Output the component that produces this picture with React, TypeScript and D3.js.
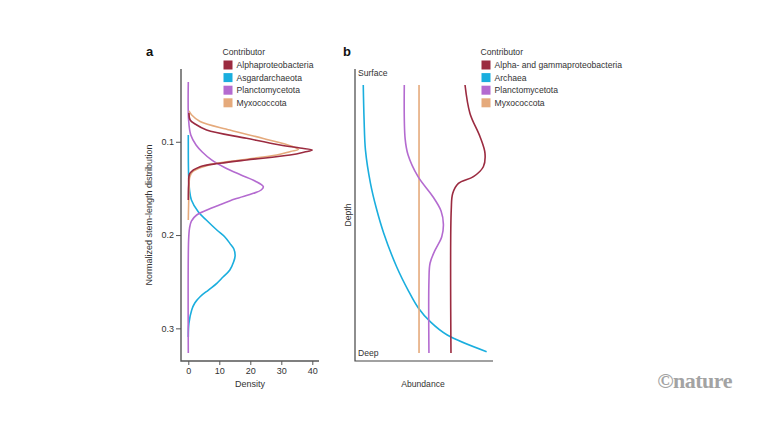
import React, { useEffect, useRef } from "react";
import * as d3 from "d3";

// panel a: [normalized stem length, density]
const alphaproteobacteria = [
  [0.0692, 0.2], [0.0767, 0.6], [0.081, 2.2], [0.0874, 5.9], [0.0963, 18.8], [0.1035, 29.6],
  [0.1067, 36], [0.1088, 40], [0.111, 37.5], [0.1142, 32.8], [0.1195, 18.8], [0.1231, 10.2],
  [0.1267, 3.8], [0.1338, 0.5], [0.1463, 0.1], [0.1624, 0],
];
const asgardarchaeota = [
  [0.0927, 0], [0.1356, 0.1], [0.1517, 0.4], [0.1624, 1], [0.175, 3.2], [0.1839, 5.8],
  [0.1946, 9.2], [0.2021, 11.8], [0.2089, 13.4], [0.215, 14.7], [0.2223, 15.1], [0.2289, 14.6],
  [0.2375, 13.4], [0.245, 11.2], [0.2517, 9.2], [0.2589, 6.5], [0.2661, 3.8], [0.2728, 2.1],
  [0.2803, 1.1], [0.2946, 0.2], [0.3092, 0],
];
const planctomycetota = [
  [0.0359, 0], [0.0767, 0.1], [0.0928, 0.8], [0.1035, 2.5], [0.111, 4.5], [0.1195, 7.5],
  [0.1281, 12], [0.1356, 17], [0.142, 21.5], [0.1481, 24.2], [0.1517, 23.5], [0.1553, 21],
  [0.1614, 15], [0.1678, 10], [0.1732, 6], [0.1785, 2.7], [0.185, 1], [0.1925, 0.4],
  [0.2053, 0.1], [0.3264, 0],
];
const myxococcota = [
  [0.067, 0.2], [0.0713, 1.1], [0.0783, 3.8], [0.0874, 13.4], [0.0965, 24.2], [0.1049, 33.5],
  [0.1083, 35.5], [0.1104, 33], [0.1142, 28.5], [0.1192, 17.5], [0.1245, 7], [0.1316, 1.6],
  [0.1374, 0.5], [0.1517, 0.25], [0.1678, 0.1], [0.1838, 0],
];
const densityTicks = [0, 10, 20, 30, 40];
const lengthTicks = [0.1, 0.2, 0.3];

// panel b: [depth (0 surface, 1 deep), relative abundance]
const alphaGamma = [
  [0, 0.799], [0.106, 0.835], [0.193, 0.908], [0.255, 0.944], [0.305, 0.932], [0.342, 0.86],
  [0.367, 0.751], [0.404, 0.71], [0.466, 0.699], [1, 0.697],
];
const archaea = [
  [0, 0.06], [0.13, 0.066], [0.243, 0.076], [0.366, 0.112], [0.46, 0.155], [0.552, 0.208],
  [0.679, 0.303], [0.77, 0.39], [0.832, 0.46], [0.885, 0.55], [0.933, 0.67], [0.995, 0.956],
];
const planctoB = [
  [0, 0.358], [0.2, 0.364], [0.26, 0.385], [0.342, 0.458], [0.417, 0.566], [0.47, 0.625],
  [0.52, 0.642], [0.566, 0.63], [0.62, 0.578], [0.665, 0.545], [0.73, 0.537], [1, 0.537],
];
const myxoB = [[0, 0.465], [1, 0.465]];

const legendA = ["Alphaproteobacteria", "Asgardarchaeota", "Planctomycetota", "Myxococcota"];
const legendB = ["Alpha- and gammaproteobacteria", "Archaea", "Planctomycetota", "Myxococcota"];
const colors = ["#9b2b40", "#1aaede", "#b46bd0", "#e5aa7c"];

const FONT = "'Liberation Sans', Arial, sans-serif";
const INK = "#333";

const App = () => {
  const ref = useRef<SVGSVGElement>(null);

  useEffect(() => {
    const svg = d3.select(ref.current);
    svg.selectAll("*").remove();
    svg.attr("width", 768).attr("height", 433);
    svg.append("rect").attr("width", 768).attr("height", 433).attr("fill", "#fff");

    // ---------- panel a ----------
    const x = d3.scaleLinear().domain([0, 40]).range([188.3, 312.3]);
    const y = d3.scaleLinear().domain([0.022, 0.335]).range([69, 361]);

    const ga = svg.append("g");
    ga.append("path")
      .attr("d", `M181,69V361H319`)
      .attr("fill", "none")
      .attr("stroke", "#555")
      .attr("stroke-width", 1.4);

    ga.append("g")
      .attr("transform", "translate(181,0)")
      .call(d3.axisLeft(y).tickValues(lengthTicks).tickSize(5).tickFormat(d3.format(".1f")))
      .call((g) => g.select(".domain").remove())
      .call((g) => g.selectAll("line").attr("stroke", "#555"))
      .call((g) =>
        g.selectAll("text").attr("font-size", 9).attr("font-family", FONT).attr("fill", INK).attr("x", -7)
      );

    ga.append("g")
      .attr("transform", "translate(0,361)")
      .call(d3.axisBottom(x).tickValues(densityTicks).tickSize(4))
      .call((g) => g.select(".domain").remove())
      .call((g) => g.selectAll("line").attr("stroke", "#555"))
      .call((g) =>
        g.selectAll("text").attr("font-size", 9).attr("font-family", FONT).attr("fill", INK).attr("y", 7)
      );

    ga.append("text")
      .attr("x", 250)
      .attr("y", 387)
      .attr("text-anchor", "middle")
      .attr("font-size", 9)
      .attr("font-family", FONT)
      .attr("fill", INK)
      .text("Density");

    ga.append("text")
      .attr("transform", "translate(152,215) rotate(-90)")
      .attr("text-anchor", "middle")
      .attr("font-size", 9)
      .attr("font-family", FONT)
      .attr("fill", INK)
      .text("Normalized stem-length distribution");

    const lineA = d3
      .line<number[]>()
      .x((d) => x(d[1]))
      .y((d) => y(d[0]))
      .curve(d3.curveCatmullRom.alpha(0.5));

    [asgardarchaeota, planctomycetota, myxococcota, alphaproteobacteria].forEach((s) => {
      const ci = [alphaproteobacteria, asgardarchaeota, planctomycetota, myxococcota].indexOf(s);
      ga.append("path")
        .datum(s)
        .attr("d", lineA)
        .attr("fill", "none")
        .attr("stroke", colors[ci])
        .attr("stroke-width", 1.6);
    });

    // ---------- panel b ----------
    const xb = d3.scaleLinear().domain([0, 1]).range([355, 492.7]);
    const yb = d3.scaleLinear().domain([0, 1]).range([85, 353]);

    const gb = svg.append("g");
    gb.append("path")
      .attr("d", `M355,69V361H493`)
      .attr("fill", "none")
      .attr("stroke", "#444")
      .attr("stroke-width", 1.2);

    const lineB = d3
      .line<number[]>()
      .x((d) => xb(d[1]))
      .y((d) => yb(d[0]))
      .curve(d3.curveCatmullRom.alpha(0.5));

    [archaea, myxoB, planctoB, alphaGamma].forEach((s) => {
      const ci = [alphaGamma, archaea, planctoB, myxoB].indexOf(s);
      gb.append("path")
        .datum(s)
        .attr("d", lineB)
        .attr("fill", "none")
        .attr("stroke", colors[ci])
        .attr("stroke-width", 1.6);
    });

    const smallText = (g, tx, ty, t, anchor = "start") =>
      g
        .append("text")
        .attr("x", tx)
        .attr("y", ty)
        .attr("text-anchor", anchor)
        .attr("font-size", 8.6)
        .attr("font-family", FONT)
        .attr("fill", INK)
        .text(t);

    smallText(gb, 358, 76, "Surface");
    smallText(gb, 358, 356, "Deep");
    smallText(gb, 423, 387, "Abundance", "middle");
    gb.append("text")
      .attr("transform", "translate(351,215) rotate(-90)")
      .attr("text-anchor", "middle")
      .attr("font-size", 8.6)
      .attr("font-family", FONT)
      .attr("fill", INK)
      .text("Depth");

    // ---------- legends ----------
    const legend = (lx, items) => {
      const g = svg.append("g");
      smallText(g, lx - 1, 55, "Contributor");
      items.forEach((name, i) => {
        const cy = 65 + i * 12.6;
        g.append("rect")
          .attr("x", lx)
          .attr("y", cy - 4.5)
          .attr("width", 9)
          .attr("height", 9)
          .attr("fill", colors[i]);
        smallText(g, lx + 13, cy + 3.2, name);
      });
    };
    legend(223.5, legendA);
    legend(481.5, legendB);

    // panel letters
    svg.append("text").attr("x", 146).attr("y", 56).attr("font-size", 13).attr("font-weight", "bold")
      .attr("font-family", FONT).attr("fill", "#111").text("a");
    svg.append("text").attr("x", 343).attr("y", 56).attr("font-size", 13).attr("font-weight", "bold")
      .attr("font-family", FONT).attr("fill", "#111").text("b");

    // publisher mark
    svg.append("text")
      .attr("x", 732)
      .attr("y", 388)
      .attr("text-anchor", "end")
      .attr("font-size", 22)
      .attr("font-weight", "bold")
      .attr("font-family", "'Liberation Serif', 'DejaVu Serif', serif")
      .attr("fill", "#a3a3a3")
      .attr("letter-spacing", -0.5)
      .text("©nature");
  }, []);

  return <svg ref={ref} style={{ position: "absolute", left: 0, top: 0 }}></svg>;
};

export default App;
